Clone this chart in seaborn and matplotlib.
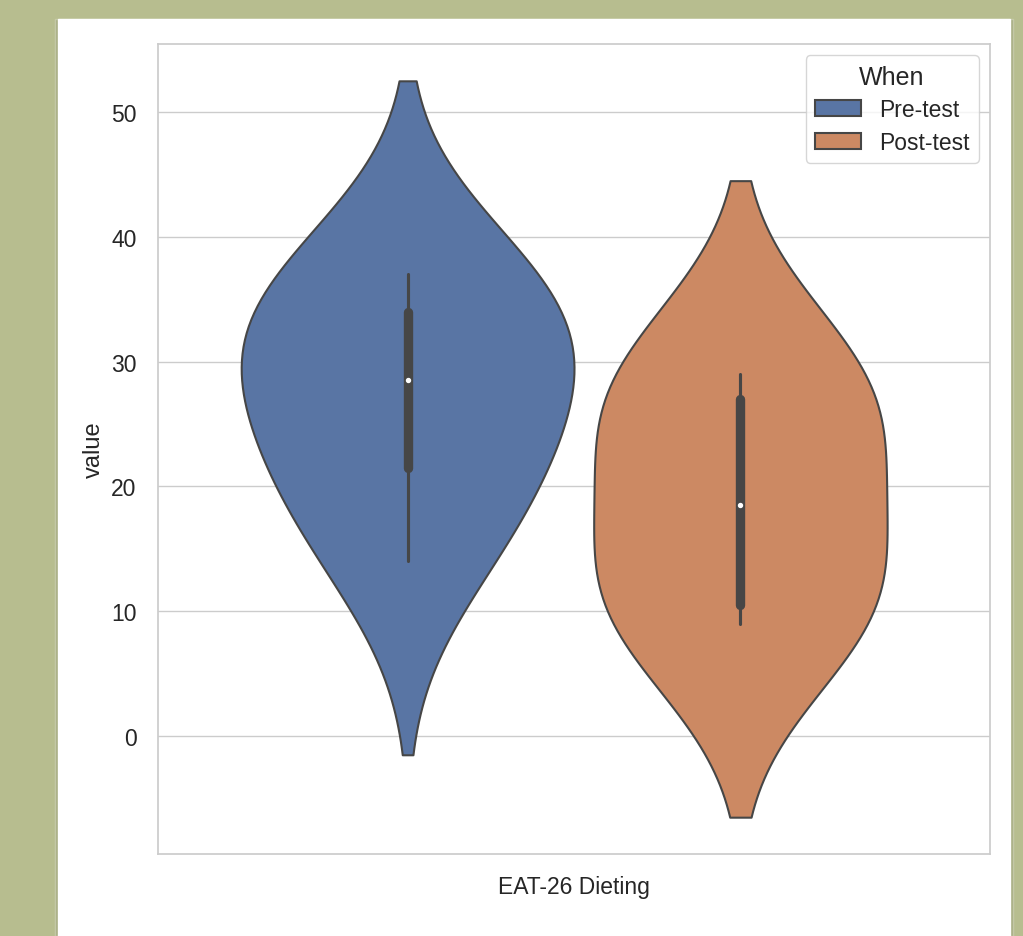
import numpy as np
import pandas as pd
import matplotlib
matplotlib.use("Agg")
import matplotlib.pyplot as plt
from matplotlib.patches import Rectangle
import seaborn as sns

# values (min / quartiles / median / max)
pre_test = [14, 17, 21, 23, 28, 29, 34, 34, 35, 37]
post_test = [9, 10, 10, 12, 14, 23, 27, 27, 28, 29]
when_levels = ["Pre-test", "Post-test"]
variable_name = "EAT-26 Dieting"
kde_bw = 7.75  # kernel width seen in both violins

df = pd.DataFrame({
    "variable": variable_name,
    "When": ["Pre-test"] * len(pre_test) + ["Post-test"] * len(post_test),
    "value": pre_test + post_test,
})

sns.set_theme(style="whitegrid", palette="deep", font_scale=1.5)
plt.rcParams["font.family"] = ["Liberation Sans", "DejaVu Sans"]

fig = plt.figure(figsize=(10.23, 9.37), dpi=100)
fig.patch.set_facecolor("#b7bd8f")
# white "window" of the screenshot, with a soft shadow at the sides
fig.patches.append(Rectangle((55 / 1023, 0), 958 / 1023, 917 / 937, transform=fig.transFigure,
                             facecolor="#7d8260", alpha=0.25, zorder=-2))
fig.patches.append(Rectangle((58 / 1023, 0), 952 / 1023, 917 / 937, transform=fig.transFigure,
                             facecolor="white", zorder=-1))

ax = fig.add_axes([158 / 1023, 82 / 937, 832 / 1023, 810 / 937])
ax.set_zorder(1)
sns.violinplot(data=df, x="variable", y="value", hue="When", hue_order=when_levels,
               bw_method=lambda k: kde_bw / np.std(k.dataset, ddof=1),
               common_norm=True, linewidth=1.5, linecolor="#464646",
               inner_kws={"marker": "o", "markersize": 2.5}, ax=ax)
ax.set_xlabel("")
ax.set_ylabel("value", fontsize=17)
ax.tick_params(axis="y", pad=9.5)
ax.tick_params(axis="x", pad=9)
sns.move_legend(ax, "upper right", title="When", labelspacing=0.42)

plt.savefig("out.png", dpi=100, facecolor=fig.get_facecolor())
